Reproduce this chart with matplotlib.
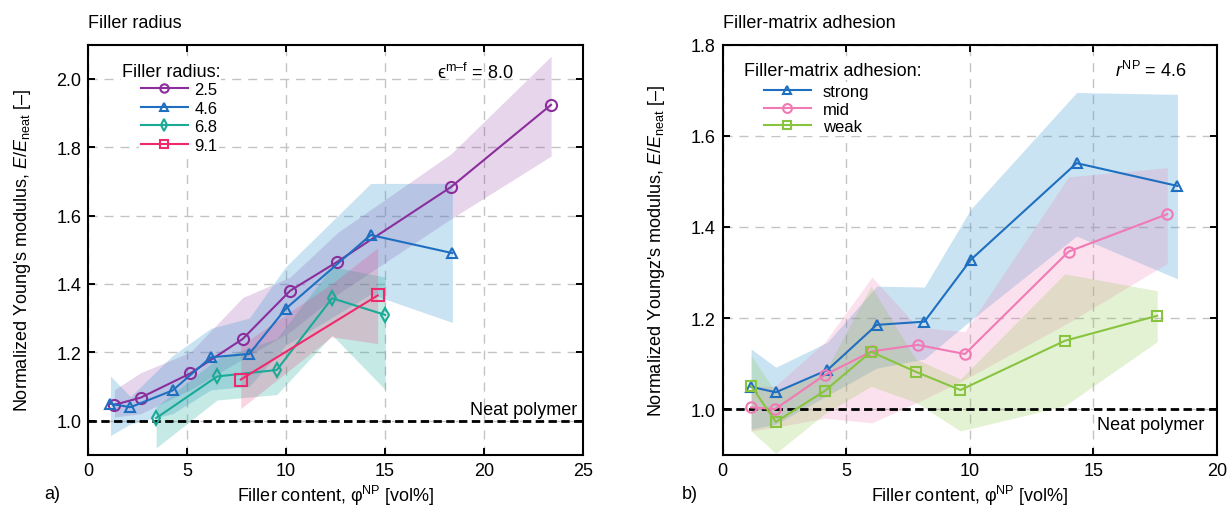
import matplotlib
matplotlib.use('Agg')
import matplotlib.pyplot as plt

plt.rcParams['font.family'] = ['Liberation Sans', 'DejaVu Sans']
plt.rcParams['mathtext.fontset'] = 'custom'
plt.rcParams['mathtext.rm'] = 'Liberation Sans'
plt.rcParams['mathtext.it'] = 'Liberation Sans:italic'
plt.rcParams['mathtext.bf'] = 'Liberation Sans:bold'

# --- a) filler radius, epsilon = 8.0 ---
r25_x = [1.32, 2.65, 5.16, 7.81, 10.21, 12.6, 18.33, 23.4]
r25_y = [1.046, 1.067, 1.138, 1.239, 1.380, 1.465, 1.683, 1.924]
r25_lo = [1.01, 1.02, 1.09, 1.18, 1.26, 1.37, 1.59, 1.774]
r25_hi = [1.09, 1.14, 1.20, 1.36, 1.42, 1.55, 1.78, 2.066]

r46_x = [1.12, 2.13, 4.26, 6.2, 8.14, 9.98, 14.28, 18.41]
r46_y = [1.049, 1.039, 1.088, 1.185, 1.195, 1.327, 1.543, 1.49]
r46_lo = [0.956, 0.99, 1.02, 1.09, 1.10, 1.22, 1.37, 1.287]
r46_hi = [1.13, 1.07, 1.19, 1.27, 1.30, 1.45, 1.694, 1.694]

r68_x = [3.43, 6.51, 9.53, 12.33, 15.02]
r68_y = [1.007, 1.129, 1.148, 1.358, 1.309]
r68_lo = [0.92, 1.06, 1.076, 1.25, 1.09]
r68_hi = [1.04, 1.18, 1.24, 1.45, 1.42]

r91_x = [7.71, 14.63]
r91_y = [1.12, 1.366]
r91_band_x = [7.71, 12.3, 14.63]
r91_lo = [1.035, 1.245, 1.225]
r91_hi = [1.22, 1.40, 1.505]

# --- b) filler-matrix adhesion, r = 4.6 ---
strong_x = [1.15, 2.15, 4.24, 6.23, 8.16, 10.04, 14.32, 18.4]
strong_y = [1.049, 1.037, 1.086, 1.185, 1.192, 1.328, 1.540, 1.49]
strong_lo = [0.956, 0.967, 1.03, 1.09, 1.11, 1.195, 1.38, 1.286]
strong_hi = [1.132, 1.092, 1.147, 1.27, 1.268, 1.439, 1.695, 1.691]

mid_x = [1.15, 2.12, 4.13, 6.04, 7.89, 9.8, 14.0, 17.99]
mid_y = [1.004, 1.0, 1.075, 1.127, 1.141, 1.121, 1.346, 1.428]
mid_lo = [0.952, 0.96, 0.98, 0.97, 1.015, 1.065, 1.19, 1.32]
mid_hi = [1.05, 1.05, 1.147, 1.29, 1.18, 1.17, 1.51, 1.53]

weak_x = [1.15, 2.15, 4.13, 6.0, 7.81, 9.62, 13.84, 17.58]
weak_y = [1.051, 0.972, 1.04, 1.126, 1.082, 1.042, 1.150, 1.205]
weak_lo = [0.952, 0.903, 0.99, 1.05, 1.015, 0.952, 1.007, 1.148]
weak_hi = [1.118, 1.037, 1.08, 1.27, 1.11, 1.066, 1.297, 1.26]

PURPLE = '#8b2e9c'
BLUE = '#1f6fc0'
BLUE_FILL = '#3d9bd3'
TEAL = '#1aaa96'
RED = '#ee2a6c'
PINK = '#f07ab4'
GREEN = '#88c43f'

FS = 13
W, H = 1228, 506


def px_axes(x0, x1, y_top, y_bot):
    return [x0 / W, 1 - y_bot / H, (x1 - x0) / W, (y_bot - y_top) / H]


def style_axes(ax):
    ax.grid(True, color='#c4c4c4', linestyle=(0, (6.5, 5)), linewidth=1.0)
    ax.set_axisbelow(True)
    ax.tick_params(direction='in', length=5, width=1.4, top=True, right=True,
                   labelsize=FS, pad=5)
    for s in ax.spines.values():
        s.set_linewidth(1.5)
        s.set_zorder(10)
    ax.axhline(1.0, color='black', linestyle=(0, (3, 1.6)), linewidth=2, zorder=5)


def legend_title(ax, x, y, s):
    ax.text(x, y, s, transform=ax.transAxes, ha='left', va='center', fontsize=FS,
            zorder=9, bbox=dict(facecolor='white', edgecolor='none', pad=0.5))


fig = plt.figure(figsize=(W / 100, H / 100), dpi=100)

# ---------------- panel a ----------------
ax1 = fig.add_axes(px_axes(88.3, 582.7, 45.7, 455.7))
style_axes(ax1)
ax1.fill_between(r25_x, r25_lo, r25_hi, color=PURPLE, alpha=0.2, lw=0)
ax1.fill_between(r46_x, r46_lo, r46_hi, color=BLUE_FILL, alpha=0.28, lw=0)
ax1.fill_between(r68_x, r68_lo, r68_hi, color=TEAL, alpha=0.25, lw=0)
ax1.fill_between(r91_band_x, r91_lo, r91_hi, color=RED, alpha=0.2, lw=0)

ax1.plot(r25_x, r25_y, '-o', color=PURPLE, lw=1.5, ms=8, mew=1.5, mfc='none', label='2.5', zorder=6)
ax1.plot(r46_x, r46_y, '-^', color=BLUE, lw=1.5, ms=7, mew=1.5, mfc='none', label='4.6', zorder=6)
ax1.plot(r68_x, r68_y, '-d', color=TEAL, lw=1.5, ms=7.5, mew=1.5, mfc='none', label='6.8', zorder=6)
ax1.plot(r91_x, r91_y, '-s', color=RED, lw=1.5, ms=8.5, mew=1.5, mfc='none', label='9.1', zorder=6)

ax1.set_xlim(0, 25)
ax1.set_ylim(0.9, 2.1)
ax1.set_xticks([0, 5, 10, 15, 20, 25])
ax1.set_yticks([1.0, 1.2, 1.4, 1.6, 1.8, 2.0])
ax1.set_yticklabels(['1.0', '1.2', '1.4', '1.6', '1.8', '2.0'])
ax1.set_xlabel('Filler content, φ$^{\\mathrm{NP}}$ [vol%]', fontsize=FS, labelpad=3)
ax1.set_ylabel("Normalized Young's modulus, $E/E_{\\mathrm{neat}}$ [–]", fontsize=FS, labelpad=17)

ax1.text(24.7, 1.006, 'Neat polymer', ha='right', va='bottom', fontsize=FS, zorder=7)
ax1.text(21.5, 2.02, 'ϵ$^{\\mathrm{m–f}}$ = 8.0', ha='right', va='center', fontsize=FS)

leg1 = ax1.legend(loc='upper left', bbox_to_anchor=(0.103, 0.913), frameon=True,
                  facecolor='white', edgecolor='none', framealpha=1, fancybox=False,
                  fontsize=12, handlelength=2.8, handletextpad=0.42, labelspacing=0.21,
                  borderpad=0.1, borderaxespad=0, markerscale=0.75)
leg1.set_zorder(8)
legend_title(ax1, 0.068, 0.934, 'Filler radius:')

fig.text(88 / W, 1 - 23.3 / H, 'Filler radius', ha='left', va='center', fontsize=FS)
fig.text(44 / W, 1 - 495 / H, 'a)', ha='left', va='center', fontsize=FS)

# ---------------- panel b ----------------
ax2 = fig.add_axes(px_axes(722.7, 1217.0, 45.7, 455.7))
style_axes(ax2)
ax2.fill_between(strong_x, strong_lo, strong_hi, color=BLUE_FILL, alpha=0.28, lw=0)
ax2.fill_between(mid_x, mid_lo, mid_hi, color=PINK, alpha=0.22, lw=0)
ax2.fill_between(weak_x, weak_lo, weak_hi, color=GREEN, alpha=0.22, lw=0)

ax2.plot(strong_x, strong_y, '-^', color=BLUE, lw=1.5, ms=7, mew=1.5, mfc='none', label='strong', zorder=6)
ax2.plot(mid_x, mid_y, '-o', color=PINK, lw=1.5, ms=7.5, mew=1.5, mfc='none', label='mid', zorder=6)
ax2.plot(weak_x, weak_y, '-s', color=GREEN, lw=1.5, ms=7.5, mew=1.5, mfc='none', label='weak', zorder=6)

ax2.set_xlim(0, 20)
ax2.set_ylim(0.9, 1.8)
ax2.set_xticks([0, 5, 10, 15, 20])
ax2.set_yticks([1.0, 1.2, 1.4, 1.6, 1.8])
ax2.set_yticklabels(['1.0', '1.2', '1.4', '1.6', '1.8'])
ax2.set_xlabel('Filler content, φ$^{\\mathrm{NP}}$ [vol%]', fontsize=FS, labelpad=3)
ax2.set_ylabel("Normalized Youngz's modulus, $E/E_{\\mathrm{neat}}$ [–]", fontsize=FS, labelpad=17)

ax2.text(19.5, 0.985, 'Neat polymer', ha='right', va='top', fontsize=FS, zorder=7)
ax2.text(18.76, 1.744, '$r^{\\mathrm{NP}}$ = 4.6', ha='right', va='center', fontsize=FS)

leg2 = ax2.legend(loc='upper left', bbox_to_anchor=(0.080, 0.908), frameon=True,
                  facecolor='white', edgecolor='none', framealpha=1, fancybox=False,
                  fontsize=12, handlelength=2.8, handletextpad=0.75, labelspacing=0.15,
                  borderpad=0.1, borderaxespad=0, markerscale=0.85)
leg2.set_zorder(8)
legend_title(ax2, (744 - 722.7) / 494.3, 1 - (72 - 45.7) / 410, 'Filler-matrix adhesion:')

fig.text(723 / W, 1 - 23.3 / H, 'Filler-matrix adhesion', ha='left', va='center', fontsize=FS)
fig.text(682 / W, 1 - 495 / H, 'b)', ha='left', va='center', fontsize=FS)

fig.savefig('out.png', dpi=100)
